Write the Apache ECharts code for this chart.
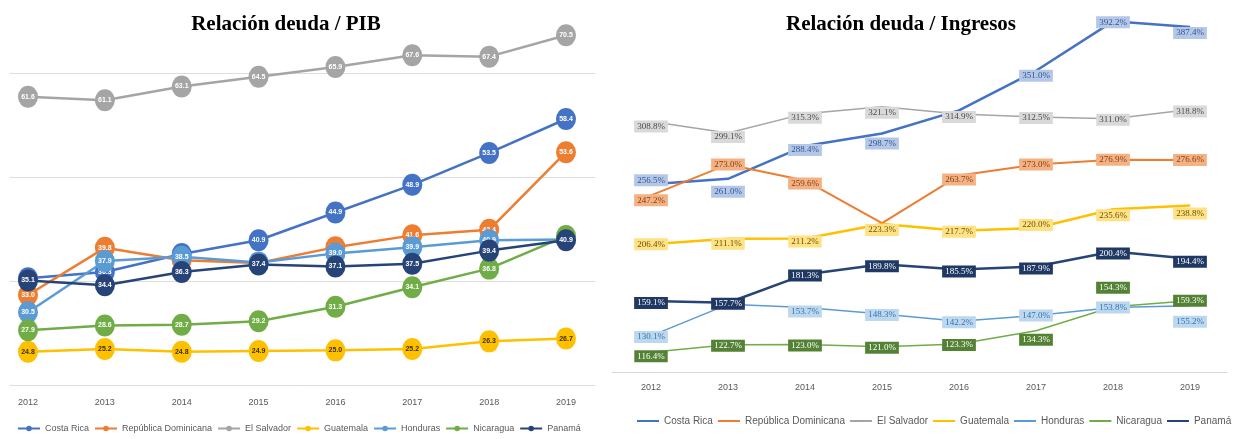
<!DOCTYPE html>
<html>
<head>
<meta charset="utf-8">
<script src="https://cdn.jsdelivr.net/npm/echarts@6/dist/echarts.min.js"></script>
<style>
  html, body { margin: 0; padding: 0; background: #ffffff; }
  #wrap { position: relative; width: 1245px; height: 439px; overflow: hidden; }
  #pib { position: absolute; left: 0; top: 0; width: 610px; height: 439px; }
  #ing { position: absolute; left: 610px; top: 0; width: 635px; height: 439px; }
</style>
</head>
<body>
<div id="wrap"><div id="pib"></div><div id="ing"></div></div>
<script>
// Years on the horizontal axis
const years = ['2012', '2013', '2014', '2015', '2016', '2017', '2018', '2019'];
const countries = ['Costa Rica', 'República Dominicana', 'El Salvador', 'Guatemala', 'Honduras', 'Nicaragua', 'Panamá'];

// Debt / GDP ratio (%)
const pibCostaRica = [35.4, 36.3, 38.9, 40.9, 44.9, 48.9, 53.5, 58.4];
const pibDominicana = [33.0, 39.8, 38.0, 37.6, 39.9, 41.6, 42.4, 53.6];
const pibSalvador = [61.6, 61.1, 63.1, 64.5, 65.9, 67.6, 67.4, 70.5];
const pibGuatemala = [24.8, 25.2, 24.8, 24.9, 25.0, 25.2, 26.3, 26.7];
const pibHonduras = [30.5, 37.9, 38.5, 37.7, 39.0, 39.9, 40.9, 41.0];
const pibNicaragua = [27.9, 28.6, 28.7, 29.2, 31.3, 34.1, 36.8, 41.5];
const pibPanama = [35.1, 34.4, 36.3, 37.4, 37.1, 37.5, 39.4, 40.9];

// Debt / revenue ratio (%)
const ingCostaRica = [256.5, 261.0, 288.4, 298.7, 318.0, 351.0, 392.2, 387.4];
const ingDominicana = [247.2, 273.0, 259.6, 224.0, 263.7, 273.0, 276.9, 276.6];
const ingSalvador = [308.8, 299.1, 315.3, 321.1, 314.9, 312.5, 311.0, 318.8];
const ingGuatemala = [206.4, 211.1, 211.2, 223.3, 217.7, 220.0, 235.6, 238.8];
const ingHonduras = [130.1, 156.4, 153.7, 148.3, 142.2, 147.0, 153.8, 155.2];
const ingNicaragua = [116.4, 122.7, 123.0, 121.0, 123.3, 134.3, 154.3, 159.3];
const ingPanama = [159.1, 157.7, 181.3, 189.8, 185.5, 187.9, 200.4, 194.4];

const pibSeries = [pibCostaRica, pibDominicana, pibSalvador, pibGuatemala, pibHonduras, pibNicaragua, pibPanama];
const ingSeries = [ingCostaRica, ingDominicana, ingSalvador, ingGuatemala, ingHonduras, ingNicaragua, ingPanama];

// Styling
const lineColors = ['#4472C4', '#ED7D31', '#A5A5A5', '#FFC000', '#5B9BD5', '#70AD47', '#264478'];
const pibLabelColors = ['#ffffff', '#ffffff', '#ffffff', '#3b3000', '#ffffff', '#ffffff', '#ffffff'];
const ingLineWidths = [2.5, 2, 1.5, 2.5, 1.5, 1.5, 2.5];
const ingBoxColors = ['#B4C7E7', '#F4B183', '#D9D9D9', '#FFE285', '#BDD7EE', '#548235', '#203864'];
const ingTextColors = ['#2F5597', '#843C0C', '#4A4A4A', '#6B5200', '#2E75B6', '#ffffff', '#ffffff'];
// Vertical nudges of the value boxes (px) and boxes left out where others sit on top
const ingLabelDy = [
  [-4, 13, 4, 10, 2, 5, 1, 6],
  [5, 0, 3, 2, 4, 0, 0, 0],
  [5, 4, 4, 6, 3, 1, 1, 2],
  [0, 5, 3, 6, 1, -3, 6, 8],
  [1, 2, 4, 1, 1, 0, 0, 16],
  [4, 1, 1, 1, 1, 9, -19, 0],
  [2, 1, 1, 2, 2, 2, 2, 3]
];
const ingLabelHidden = [[4], [3], [], [], [1], [], []];

const axisTextColor = '#595959';
const sansFont = 'Liberation Sans';
const serifFont = 'Liberation Serif';

// ---------- Debt / GDP ----------
const pibChart = echarts.init(document.getElementById('pib'), null, { renderer: 'canvas' });
pibChart.setOption({
  animation: false,
  title: {
    text: 'Relación deuda / PIB',
    left: 281, top: 9, textAlign: 'center',
    textStyle: { fontFamily: serifFont, fontWeight: 'bold', fontSize: 21, color: '#000000' }
  },
  legend: {
    data: countries,
    left: 12, top: 419,
    itemWidth: 22, itemHeight: 7, itemGap: 5,
    textStyle: { fontFamily: sansFont, fontSize: 9, color: axisTextColor }
  },
  grid: [
    { left: 10, right: 15, top: 4, bottom: 54 },
    { left: 28, right: 44, top: 4, bottom: 54 }
  ],
  xAxis: [
    { type: 'value', gridIndex: 0, min: 0, max: 1, show: false },
    {
      type: 'category', gridIndex: 1, data: years, boundaryGap: false,
      axisLine: { show: false }, axisTick: { show: false },
      axisLabel: { margin: 13, fontFamily: sansFont, fontSize: 9, color: axisTextColor }
    }
  ],
  yAxis: [
    {
      type: 'value', gridIndex: 0, min: 20, max: 75, interval: 15,
      axisLine: { show: false }, axisTick: { show: false }, axisLabel: { show: false },
      splitLine: { show: true, showMaxLine: false, lineStyle: { color: '#DDDDDD', width: 1 } }
    },
    { type: 'value', gridIndex: 1, min: 20, max: 75, show: false }
  ],
  series: countries.map((name, i) => ({
    type: 'line', name,
    xAxisIndex: 1, yAxisIndex: 1,
    data: pibSeries[i],
    z: 2 + i,
    symbol: 'circle', symbolSize: [20, 22],
    lineStyle: { width: 2.5, color: lineColors[i] },
    itemStyle: { color: lineColors[i] },
    emphasis: { disabled: true },
    label: {
      show: true, position: 'inside',
      fontFamily: sansFont, fontSize: 7, fontWeight: 'bold',
      color: pibLabelColors[i],
      formatter: p => Number(p.value).toFixed(1)
    }
  }))
});

// ---------- Debt / revenue ----------
const ingChart = echarts.init(document.getElementById('ing'), null, { renderer: 'canvas' });
ingChart.setOption({
  animation: false,
  title: {
    text: 'Relación deuda / Ingresos',
    left: 286, top: 9, textAlign: 'center',
    textStyle: { fontFamily: serifFont, fontWeight: 'bold', fontSize: 21, color: '#000000' }
  },
  legend: {
    data: countries,
    left: 22, top: 411,
    icon: 'rect', itemWidth: 22, itemHeight: 2, itemGap: 5,
    textStyle: { fontFamily: sansFont, fontSize: 10, color: axisTextColor }
  },
  grid: [
    { left: 2, right: 18, top: 12, bottom: 67 },
    { left: 41, right: 55, top: 12, bottom: 67 }
  ],
  xAxis: [
    {
      type: 'value', gridIndex: 0, min: 0, max: 1,
      axisLine: { show: true, lineStyle: { color: '#D9D9D9', width: 1 } },
      axisTick: { show: false }, axisLabel: { show: false }, splitLine: { show: false }
    },
    {
      type: 'category', gridIndex: 1, data: years, boundaryGap: false,
      axisLine: { show: false }, axisTick: { show: false },
      axisLabel: { margin: 11, fontFamily: sansFont, fontSize: 9, color: axisTextColor }
    }
  ],
  yAxis: [
    { type: 'value', gridIndex: 0, min: 0, max: 1, show: false },
    { type: 'value', gridIndex: 1, min: 100, max: 400, show: false }
  ],
  series: countries.map((name, i) => ({
    type: 'line', name,
    xAxisIndex: 1, yAxisIndex: 1,
    z: 2,
    symbol: 'circle', symbolSize: 1, showSymbol: true,
    lineStyle: { width: ingLineWidths[i], color: lineColors[i] },
    itemStyle: { color: lineColors[i] },
    emphasis: { disabled: true },
    label: {
      show: true, position: 'inside',
      fontFamily: serifFont, fontSize: 9,
      color: ingTextColors[i],
      backgroundColor: ingBoxColors[i],
      padding: [2, 3, 1, 3],
      formatter: p => Number(p.value).toFixed(1) + '%'
    },
    data: ingSeries[i].map((v, j) => ({
      value: v,
      label: ingLabelHidden[i].includes(j)
        ? { show: false }
        : { offset: [0, ingLabelDy[i][j]] }
    }))
  }))
});
</script>
</body>
</html>
